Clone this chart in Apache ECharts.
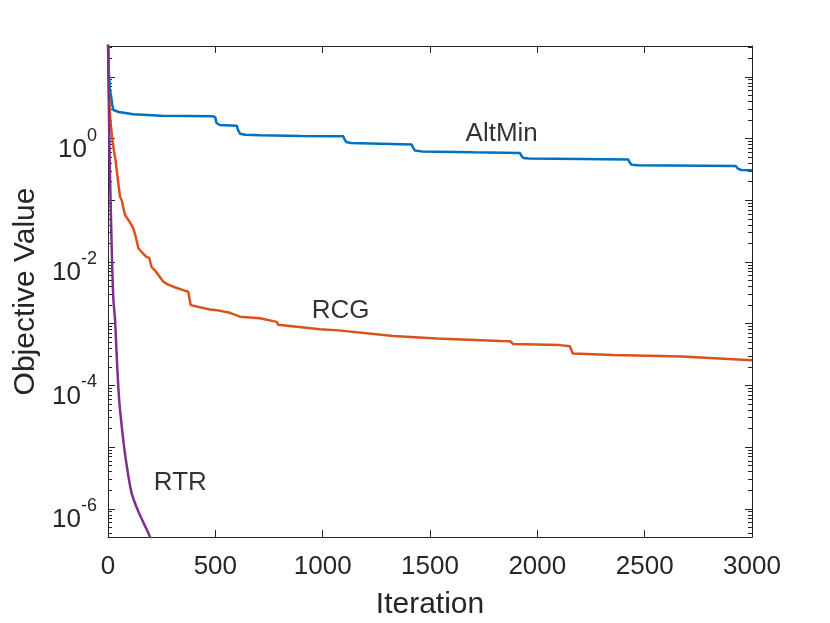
<!DOCTYPE html>
<html>
<head>
<meta charset="utf-8">
<title>Objective Value vs Iteration</title>
<script src="https://cdn.jsdelivr.net/npm/echarts@6/dist/echarts.min.js"></script>
<style>
  html, body { margin: 0; padding: 0; background: #fff; }
  #chart { width: 830px; height: 623px; }
</style>
</head>
<body>
<div id="chart"></div>
<script>
// x ticks
var xTicks = [0, 500, 1000, 1500, 2000, 2500, 3000];
// y labels only at these exponents
var yLabelExps = [-6, -4, -2, 0];

// [iteration, objective]
var altMin = [
  [0, 40], [4, 12], [9, 6], [14, 5.0], [20, 3.5], [25, 2.9], [50, 2.7], [118, 2.47],
  [250, 2.35], [490, 2.29], [500, 2.2], [505, 1.8], [520, 1.66], [600, 1.62],
  [605, 1.4], [615, 1.2], [640, 1.15], [708, 1.13], [900, 1.1], [1096, 1.09],
  [1100, 1.0], [1110, 0.88], [1130, 0.85], [1415, 0.80], [1420, 0.72], [1430, 0.64],
  [1460, 0.62], [1700, 0.60], [1919, 0.585], [1925, 0.53], [1935, 0.485], [1960, 0.475],
  [2424, 0.46], [2430, 0.41], [2440, 0.375], [2470, 0.37], [2924, 0.36], [2935, 0.325],
  [2950, 0.31], [3000, 0.307]
];

var rcg = [
  [0, 40], [3, 8], [6, 4], [12, 1.8], [20, 1.0], [27, 0.65], [35, 0.45], [48, 0.19],
  [56, 0.114], [64, 0.1], [79, 0.058], [100, 0.045], [118, 0.035], [130, 0.025],
  [141, 0.017], [149, 0.0155], [180, 0.012], [192, 0.0117], [203, 0.0083], [220, 0.0072],
  [234, 0.0062], [258, 0.0048], [280, 0.0043], [311, 0.0039], [350, 0.0035], [374, 0.0033],
  [380, 0.0031], [385, 0.002], [475, 0.0017], [506, 0.00166], [568, 0.0015], [590, 0.0014],
  [615, 0.0013], [708, 0.00123], [786, 0.00107], [793, 0.00096], [987, 0.00081],
  [1073, 0.00078], [1081, 0.00074], [1329, 0.00063], [1531, 0.000575], [1826, 0.000525],
  [1873, 0.00052], [1888, 0.00047], [2105, 0.00045], [2113, 0.00043], [2152, 0.00043],
  [2165, 0.00033], [2354, 0.00031], [2672, 0.000295], [2680, 0.000275], [3000, 0.000257]
];

var rtr = [
  [0, 40], [6, 1.0], [12, 0.1], [19, 0.01], [25, 0.0025], [33, 0.00115], [40, 0.00033],
  [48, 0.000095], [56, 0.00004], [79, 0.0000079], [110, 0.0000018], [141, 0.00000091],
  [170, 0.00000055], [196, 0.00000035], [205, 0.00000028]
];

// text annotations [iteration, value, text]
var notes = [
  [1834, 1.18, 'AltMin'],
  [1084, 0.00162, 'RCG'],
  [337, 0.0000026, 'RTR']
];

var axisGray = '#262626';
var fontFam = '"Liberation Sans", Arial, Helvetica, sans-serif';
var yMin = Math.pow(10, -6.456);
var yMax = Math.pow(10, 1.5);

var chart = echarts.init(document.getElementById('chart'));

function xAxisDef(pos, showLabel) {
  return {
    type: 'value',
    position: pos,
    min: xTicks[0],
    max: xTicks[xTicks.length - 1],
    interval: xTicks[1] - xTicks[0],
    name: showLabel ? 'Iteration' : '',
    nameLocation: 'middle',
    nameGap: 53,
    nameTextStyle: { fontSize: 30, color: axisGray, fontFamily: fontFam },
    axisLine: { show: true, onZero: false, lineStyle: { color: axisGray, width: 1 } },
    axisTick: { show: true, inside: true, length: 7, lineStyle: { color: axisGray, width: 1 } },
    axisLabel: {
      show: showLabel, margin: 17, fontSize: 26, color: axisGray, fontFamily: fontFam,
      formatter: function (v) { return String(v); }
    },
    splitLine: { show: false }
  };
}

function yAxisDef(pos, showLabel) {
  return {
    type: 'log',
    logBase: 10,
    position: pos,
    min: yMin,
    max: yMax,
    name: showLabel ? 'Objective Value' : '',
    nameLocation: 'middle',
    nameGap: 66,
    nameRotate: 90,
    nameTextStyle: { fontSize: 30, color: axisGray, fontFamily: fontFam },
    axisLine: { show: true, onZero: false, lineStyle: { color: axisGray, width: 1 } },
    axisTick: { show: true, inside: true, length: 7, lineStyle: { color: axisGray, width: 1 } },
    minorTick: { show: true, splitNumber: 9, length: 4, lineStyle: { color: axisGray, width: 1 } },
    axisLabel: {
      show: showLabel,
      margin: 11,
      padding: [12, 0, 0, 0],
      showMinLabel: false,
      showMaxLabel: false,
      fontFamily: fontFam,
      color: axisGray,
      formatter: function (v) {
        var l = Math.log(v) / Math.LN10;
        var e = Math.round(l);
        if (Math.abs(l - e) > 1e-6 || yLabelExps.indexOf(e) < 0) return '';
        return '{b|10}{s|' + e + '}';
      },
      rich: {
        b: { fontSize: 26, color: axisGray, fontFamily: fontFam, verticalAlign: 'bottom', lineHeight: 36 },
        s: { fontSize: 18, color: axisGray, fontFamily: fontFam, verticalAlign: 'top', lineHeight: 20 }
      }
    },
    splitLine: { show: false },
    minorSplitLine: { show: false }
  };
}

var option = {
  backgroundColor: '#ffffff',
  animation: false,
  grid: {
    left: 108, right: 78, top: 46, bottom: 86,
    containLabel: false,
    outerBoundsMode: 'none'
  },
  xAxis: [xAxisDef('bottom', true), xAxisDef('top', false)],
  yAxis: [yAxisDef('left', true), yAxisDef('right', false)],
  series: [
    {
      name: 'AltMin', type: 'line', data: altMin, showSymbol: false,
      lineStyle: { color: '#0072BD', width: 2.5 }, itemStyle: { color: '#0072BD' }
    },
    {
      name: 'RCG', type: 'line', data: rcg, showSymbol: false,
      lineStyle: { color: '#D95319', width: 2.5 }, itemStyle: { color: '#D95319' }
    },
    {
      name: 'RTR', type: 'line', data: rtr, showSymbol: false, smooth: 0.2,
      lineStyle: { color: '#7E2F8E', width: 2.5 }, itemStyle: { color: '#7E2F8E' }
    },
    {
      name: 'notes', type: 'scatter', data: notes, symbolSize: 0, silent: true,
      label: {
        show: true, position: 'inside', fontSize: 26, color: '#000', fontFamily: fontFam,
        formatter: function (p) { return p.value[2]; }
      }
    }
  ]
};

chart.setOption(option);
</script>
</body>
</html>
